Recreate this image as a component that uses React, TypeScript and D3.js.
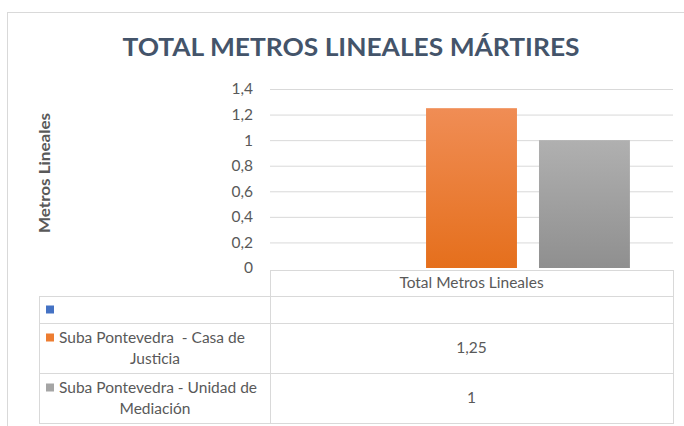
import * as d3 from "d3";

const categories = ["Total Metros Lineales"];
const seriesNames = ["", "Suba Pontevedra  - Casa de Justicia", "Suba Pontevedra - Unidad de Mediación"];
const seriesLines = [[""], ["Suba Pontevedra  - Casa de", "Justicia"], ["Suba Pontevedra - Unidad de", "Mediación"]];
const seriesValues = [null, 1.25, 1];
const seriesColors = ["#4472C4", "#ED7D31", "#A5A5A5"];
const gradTop = ["#6f93d6", "#f08d55", "#b0b0b0"];
const gradBottom = ["#3b64b0", "#e56f1c", "#8f8f8f"];
const yTicks = [0, 0.2, 0.4, 0.6, 0.8, 1, 1.2, 1.4];

const W = 684;
const H = 426;
const font = "Lato, 'Open Sans', sans-serif";
const fs = 15.5;
const fmt = d3.formatLocale({ decimal: ",", thousands: ".", grouping: [3], currency: ["", ""] }).format("~r");

export default function App() {
  const plotLeft = 270;
  const plotRight = 673;
  const tableLeft = 39;

  const y = d3.scaleLinear().domain([0, 1.4]).range([268, 89]);

  const x0 = d3.scaleBand<string>().domain(categories).range([plotLeft, plotRight]).paddingOuter(0.136);
  const x1 = d3
    .scaleBand<string>()
    .domain(seriesNames.map((_, i) => String(i)))
    .range([0, x0.bandwidth()])
    .paddingInner(0.195);

  // table rows
  const headerTop = 270;
  const rowTops = [296, 323, 373];
  const rowBottoms = [323, 373, 423];
  const gridColor = "#d9d9d9";
  const textColor = "#595959";

  return (
    <svg width={W} height={H} style={{ position: "absolute", left: 0, top: 0, background: "#fff" }}>
      <defs>
        {seriesColors.map((_, i) => (
          <linearGradient key={i} id={`g${i}`} x1="0" y1="0" x2="0" y2="1">
            <stop offset="0" stopColor={gradTop[i]} />
            <stop offset="1" stopColor={gradBottom[i]} />
          </linearGradient>
        ))}
      </defs>
      <rect x={7.5} y={12.5} width={700} height={430} fill="#fff" stroke="#d9d9d9" />

      <text
        x={351}
        y={56}
        textAnchor="middle"
        fontFamily={font}
        fontWeight="bold"
        fontSize={24}
        fill="#44546A"
        textLength={457}
        lengthAdjust="spacingAndGlyphs"
      >
        TOTAL METROS LINEALES MÁRTIRES
      </text>

      {/* y axis title */}
      <text
        transform="translate(50,173) rotate(-90)"
        textAnchor="middle"
        fontFamily={font}
        fontWeight="bold"
        fontSize={fs}
        fill={textColor}
        textLength={120}
        lengthAdjust="spacingAndGlyphs"
      >
        Metros Lineales
      </text>

      {/* gridlines + ticks */}
      {yTicks.map((t) => (
        <g key={t}>
          {t > 0 && <line x1={plotLeft} x2={plotRight} y1={y(t) + 0.5} y2={y(t) + 0.5} stroke={gridColor} />}
          <text x={253} y={y(t)} dy="0.35em" textAnchor="end" fontFamily={font} fontSize={fs} fill={textColor}>
            {fmt(t)}
          </text>
        </g>
      ))}

      {/* bars */}
      {categories.map((c) => (
        <g key={c} transform={`translate(${x0(c)},0)`}>
          {seriesValues.map((v, si) =>
            v == null ? null : (
              <rect
                key={si}
                x={x1(String(si))}
                y={y(v)}
                width={x1.bandwidth()}
                height={y(0) - y(v)}
                fill={`url(#g${si})`}
              />
            )
          )}
        </g>
      ))}

      {/* data table */}
      <g fill="none" stroke={gridColor}>
        <line x1={plotLeft + 0.5} x2={plotLeft + 0.5} y1={headerTop} y2={rowBottoms[2]} />
        <line x1={plotRight + 0.5} x2={plotRight + 0.5} y1={headerTop} y2={rowBottoms[2]} />
        <line x1={tableLeft + 0.5} x2={tableLeft + 0.5} y1={rowTops[0]} y2={rowBottoms[2]} />
        <line x1={plotLeft} x2={plotRight} y1={headerTop + 0.5} y2={headerTop + 0.5} />
        {rowTops.map((t) => (
          <line key={t} x1={tableLeft} x2={plotRight} y1={t + 0.5} y2={t + 0.5} />
        ))}
        <line x1={tableLeft} x2={plotRight + 1} y1={rowBottoms[2] + 0.5} y2={rowBottoms[2] + 0.5} />
      </g>

      {categories.map((c) => (
        <text
          key={c}
          x={x0(c)! + x0.bandwidth() / 2}
          y={283}
          dy="0.35em"
          textAnchor="middle"
          fontFamily={font}
          fontSize={fs}
          fill={textColor}
        >
          {c}
        </text>
      ))}

      {seriesNames.map((s, si) => {
        const top = rowTops[si];
        const bottom = rowBottoms[si];
        const mid = (top + bottom) / 2;
        const lines = seriesLines[si];
        const lh = 21;
        const firstY = mid - ((lines.length - 1) * lh) / 2;
        const v = seriesValues[si];
        return (
          <g key={si}>
            <rect x={46} y={firstY - 4} width={8} height={8} fill={seriesColors[si]} />
            {lines.map((l, li) => (
              <text
                key={li}
                x={li === 0 ? 59 : 155}
                y={firstY + li * lh}
                dy="0.35em"
                textAnchor={li === 0 ? "start" : "middle"}
                fontFamily={font}
                fontSize={fs}
                fill={textColor}
                style={{ whiteSpace: "pre" }}
              >
                {l}
              </text>
            ))}
            {v != null &&
              categories.map((c) => (
                <text
                  key={c}
                  x={x0(c)! + x0.bandwidth() / 2}
                  y={mid}
                  dy="0.35em"
                  textAnchor="middle"
                  fontFamily={font}
                  fontSize={fs}
                  fill={textColor}
                >
                  {fmt(v)}
                </text>
              ))}
          </g>
        );
      })}
    </svg>
  );
}
